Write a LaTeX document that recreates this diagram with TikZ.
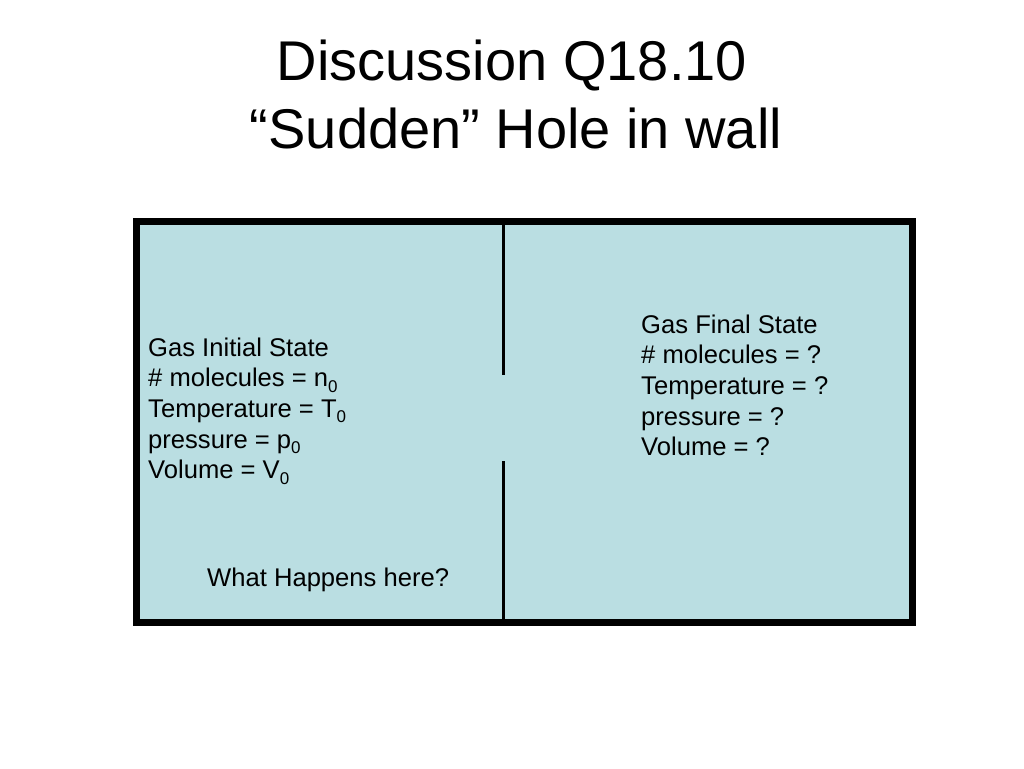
\documentclass[tikz,border=0pt]{standalone}
\usepackage{fontspec}
\setmainfont{Liberation Sans}
\definecolor{gasfill}{RGB}{186,222,226}
\newcommand{\subz}[1]{\raisebox{-5.5pt}{\fontsize{17}{17}\selectfont #1}}
\begin{document}
\begin{tikzpicture}[x=1pt,y=-1pt,
  titletext/.style={anchor=base,inner sep=0pt,font=\fontsize{56}{67}\selectfont},
  bodytext/.style={anchor=base west,inner sep=0pt,font=\fontsize{25.6}{30.7}\selectfont},
  wall/.style={line width=3pt}]
\useasboundingbox (0,0) rectangle (1024,768);
\fill[white] (0,0) rectangle (1024,768);
% title
\node[titletext] (t1) at (512,81) {Discussion Q18.10};
\node[titletext] (t2) at (516,148) {“Sudden” Hole in wall};
% container
\draw[line width=7pt,fill=gasfill] (136.5,221.5) rectangle (912.5,622) ;
\coordinate (wtop) at (503.5,225);
\coordinate (wgap1) at (503.5,375);
\coordinate (wgap2) at (503.5,461);
\coordinate (wbot) at (503.5,618.5);
\draw[wall] (wtop) -- (wgap1);
\draw[wall] (wgap2) -- (wbot);
% left text
\node[bodytext] (l1) at (148,356) {Gas Initial State};
\node[bodytext] (l2) at (148,386.7) {\# molecules = n\subz{0}};
\node[bodytext] (l3) at (148,417.4) {Temperature = T\subz{0}};
\node[bodytext] (l4) at (148,448.1) {pressure = p\subz{0}};
\node[bodytext] (l5) at (148,478.8) {Volume = V\subz{0}};
% right text
\node[bodytext] (r1) at (641,333) {Gas Final State};
\node[bodytext] (r2) at (641,363.7) {\# molecules = ?};
\node[bodytext] (r3) at (641,394.4) {Temperature = ?};
\node[bodytext] (r4) at (641,425.1) {pressure = ?};
\node[bodytext] (r5) at (641,455.8) {Volume = ?};
% question
\node[bodytext] (q) at (207,586) {What Happens here?};
\end{tikzpicture}
\end{document}
